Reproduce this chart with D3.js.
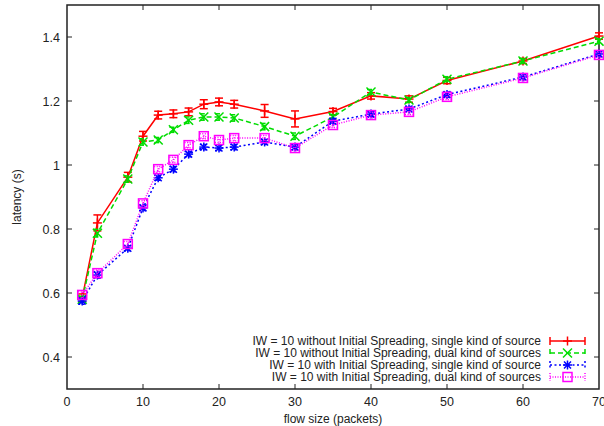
<!DOCTYPE html>
<html>
<head>
<meta charset="utf-8">
<script src="https://cdn.jsdelivr.net/npm/d3@7/dist/d3.min.js"></script>
<style>
body { margin: 0; background: #fff; }
svg text { font-family: "Liberation Sans", Arial, sans-serif; fill: #222; }
</style>
</head>
<body>
<div id="plot"></div>
<script>
var flowSize = [2, 4, 8, 10, 12, 14, 16, 18, 20, 22, 26, 30, 35, 40, 45, 50, 60, 70];

var noSpreadSingle = [0.585, 0.819, 0.962, 1.09, 1.156, 1.16, 1.166, 1.19, 1.197, 1.19, 1.169, 1.144, 1.167, 1.216, 1.206, 1.264, 1.325, 1.403];
var noSpreadSingleErr = [0.012, 0.025, 0.015, 0.015, 0.012, 0.012, 0.012, 0.014, 0.012, 0.012, 0.02, 0.025, 0.01, 0.01, 0.01, 0.01, 0.008, 0.01];

var noSpreadDual = [0.58, 0.787, 0.956, 1.072, 1.078, 1.11, 1.14, 1.15, 1.15, 1.147, 1.12, 1.09, 1.15, 1.228, 1.203, 1.268, 1.325, 1.387];
var noSpreadDualErr = [0.01, 0.012, 0.01, 0.01, 0.008, 0.008, 0.01, 0.01, 0.01, 0.01, 0.01, 0.01, 0.008, 0.008, 0.008, 0.008, 0.008, 0.008];

var spreadSingle = [0.575, 0.656, 0.74, 0.866, 0.96, 0.987, 1.034, 1.056, 1.053, 1.056, 1.072, 1.056, 1.137, 1.159, 1.175, 1.22, 1.275, 1.347];
var spreadSingleErr = [0.01, 0.01, 0.008, 0.008, 0.008, 0.008, 0.008, 0.008, 0.008, 0.008, 0.008, 0.008, 0.008, 0.008, 0.008, 0.008, 0.008, 0.008];

var spreadDual = [0.594, 0.662, 0.753, 0.88, 0.987, 1.016, 1.062, 1.09, 1.078, 1.084, 1.084, 1.053, 1.125, 1.156, 1.166, 1.213, 1.272, 1.344];
var spreadDualErr = [0.01, 0.01, 0.008, 0.008, 0.008, 0.008, 0.008, 0.008, 0.008, 0.008, 0.008, 0.008, 0.008, 0.008, 0.008, 0.008, 0.008, 0.008];

var seriesNames = [
    "IW = 10 without Initial Spreading, single kind of source",
    "IW = 10 without Initial Spreading, dual kind of sources",
    "IW = 10 with Initial Spreading, single kind of source",
    "IW = 10 with Initial Spreading, dual kind of sources"
];

var xTicks = [0, 10, 20, 30, 40, 50, 60, 70];
var yTicks = [0.4, 0.6, 0.8, 1, 1.2, 1.4];

var width = 604, height = 426;
var plotLeft = 67, plotRight = 599, plotTop = 5, plotBottom = 389;

var xScale = d3.scaleLinear().domain([0, 70]).range([plotLeft, plotRight]);
var yScale = d3.scaleLinear().domain([0.3, 1.5]).range([plotBottom, plotTop]);

var svg = d3.select("#plot").append("svg")
    .attr("width", width)
    .attr("height", height);

var series = [
    {name: seriesNames[0], values: noSpreadSingle, err: noSpreadSingleErr, color: "#ff0000", dash: null, marker: "plus"},
    {name: seriesNames[1], values: noSpreadDual, err: noSpreadDualErr, color: "#00dd00", dash: "5,3", marker: "cross"},
    {name: seriesNames[2], values: spreadSingle, err: spreadSingleErr, color: "#0000ff", dash: "2,2.5", marker: "star"},
    {name: seriesNames[3], values: spreadDual, err: spreadDualErr, color: "#ff00ff", dash: "1,1.5", marker: "box"}
];

// ticks (gnuplot style, mirrored on all sides)
var axisColor = "#222";
var g = svg.append("g");
xTicks.forEach(function(t) {
    if (t == 0 || t == 70) return;
    g.append("line").attr("x1", xScale(t)).attr("x2", xScale(t))
        .attr("y1", plotBottom).attr("y2", plotBottom - 5).attr("stroke", axisColor);
    g.append("line").attr("x1", xScale(t)).attr("x2", xScale(t))
        .attr("y1", plotTop).attr("y2", plotTop + 5).attr("stroke", axisColor);
});
xTicks.forEach(function(t) {
    svg.append("text").attr("x", xScale(t)).attr("y", plotBottom + 17)
        .attr("text-anchor", "middle").attr("font-size", 12.5).text(t);
});
yTicks.forEach(function(t) {
    g.append("line").attr("x1", plotLeft).attr("x2", plotLeft + 5)
        .attr("y1", yScale(t)).attr("y2", yScale(t)).attr("stroke", axisColor);
    g.append("line").attr("x1", plotRight).attr("x2", plotRight - 5)
        .attr("y1", yScale(t)).attr("y2", yScale(t)).attr("stroke", axisColor);
    svg.append("text").attr("x", plotLeft - 7).attr("y", yScale(t) + 4.5)
        .attr("text-anchor", "end").attr("font-size", 12.5).text(t);
});

svg.append("rect")
    .attr("x", plotLeft).attr("y", plotTop)
    .attr("width", plotRight - plotLeft).attr("height", plotBottom - plotTop)
    .attr("fill", "none").attr("stroke", axisColor).attr("stroke-width", 1.5);

svg.append("text").attr("x", (plotLeft + plotRight) / 2).attr("y", 423)
    .attr("text-anchor", "middle").attr("font-size", 12).text("flow size (packets)");
svg.append("text")
    .attr("transform", "translate(21," + ((plotTop + plotBottom) / 2) + ") rotate(-90)")
    .attr("text-anchor", "middle").attr("font-size", 12).text("latency (s)");

function drawMarker(sel, kind, x, y, color) {
    var s = 4.5;
    if (kind == "plus" || kind == "star") {
        sel.append("line").attr("x1", x - s).attr("x2", x + s).attr("y1", y).attr("y2", y).attr("stroke", color).attr("stroke-width", 1.5);
        sel.append("line").attr("x1", x).attr("x2", x).attr("y1", y - s).attr("y2", y + s).attr("stroke", color).attr("stroke-width", 1.5);
    }
    if (kind == "cross" || kind == "star") {
        var c = kind == "star" ? 3.5 : s;
        sel.append("line").attr("x1", x - c).attr("x2", x + c).attr("y1", y - c).attr("y2", y + c).attr("stroke", color).attr("stroke-width", 1.5);
        sel.append("line").attr("x1", x - c).attr("x2", x + c).attr("y1", y + c).attr("y2", y - c).attr("stroke", color).attr("stroke-width", 1.5);
    }
    if (kind == "box") {
        sel.append("rect").attr("x", x - s).attr("y", y - s).attr("width", 2 * s).attr("height", 2 * s)
            .attr("fill", "none").attr("stroke", color).attr("stroke-width", 1.5);
    }
}

var line = d3.line()
    .x(function(d) { return xScale(d.x); })
    .y(function(d) { return yScale(d.y); });

series.forEach(function(s) {
    var pts = flowSize.map(function(x, i) { return {x: x, y: s.values[i], e: s.err[i]}; });
    var sg = svg.append("g");
    sg.append("path").datum(pts).attr("d", line)
        .attr("fill", "none").attr("stroke", s.color).attr("stroke-width", 1.5)
        .attr("stroke-dasharray", s.dash);
    pts.forEach(function(p) {
        var px = xScale(p.x);
        sg.append("line").attr("x1", px).attr("x2", px)
            .attr("y1", yScale(p.y - p.e)).attr("y2", yScale(p.y + p.e))
            .attr("stroke", s.color).attr("stroke-width", 1.5).attr("stroke-dasharray", s.dash);
        [p.y - p.e, p.y + p.e].forEach(function(v) {
            sg.append("line").attr("x1", px - 4).attr("x2", px + 4)
                .attr("y1", yScale(v)).attr("y2", yScale(v))
                .attr("stroke", s.color).attr("stroke-width", 1.5).attr("stroke-dasharray", s.dash);
        });
        drawMarker(sg, s.marker, px, yScale(p.y), s.color);
    });
});

// legend
var legY = [341, 353, 365, 377];
series.forEach(function(s, i) {
    var y = legY[i];
    svg.append("text").attr("x", 541).attr("y", y + 4)
        .attr("text-anchor", "end").attr("font-size", 12).text(s.name);
    var lg = svg.append("g");
    lg.append("line").attr("x1", 550).attr("x2", 585).attr("y1", y).attr("y2", y)
        .attr("stroke", s.color).attr("stroke-width", 1.5).attr("stroke-dasharray", s.dash);
    [550, 585].forEach(function(x) {
        lg.append("line").attr("x1", x).attr("x2", x).attr("y1", y - 4).attr("y2", y + 4)
            .attr("stroke", s.color).attr("stroke-width", 1.5).attr("stroke-dasharray", s.dash);
    });
    drawMarker(lg, s.marker, 567.5, y, s.color);
});
</script>
</body>
</html>
